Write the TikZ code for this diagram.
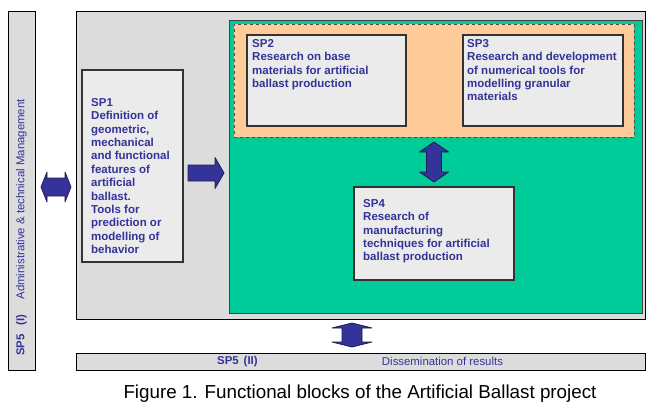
\documentclass[tikz,border=0pt]{standalone}
\usepackage{fontspec}
\setmainfont{Liberation Sans}
\usepackage{xcolor}
\usetikzlibrary{positioning, calc}
\definecolor{cPANEL}{HTML}{DCDCDC}
\definecolor{cBOX}{HTML}{EBEBEB}
\definecolor{cCORE}{HTML}{00CC99}
\definecolor{cBASE}{HTML}{FFCC99}
\definecolor{cINK}{HTML}{333399}
\definecolor{cEDGE}{HTML}{1E1E50}

\begin{document}
\begin{tikzpicture}[x=1pt, y=-1pt,
  blk/.style={draw, inner sep=0pt, outer sep=0pt, anchor=north west},
  spbox/.style={blk, fill=cBOX, draw=black!80, line width=1.2pt},
  sptext/.style={anchor=north west, inner sep=0pt, align=left, text=cINK,
    font=\fontsize{11.5}{13.4}\selectfont\bfseries},
  bartext/.style={inner sep=0pt, text=cINK, font=\fontsize{11.4}{13}\selectfont},
  blockarrow/.style={fill=cINK, draw=cEDGE, line width=0.8pt, line join=round}]
  \useasboundingbox (0,0) rectangle (658,410);

  % SP5 (I): side bar
  \node[blk, fill=cPANEL, minimum width=27pt, minimum height=359pt] (adm) at (8,11) {};
  \node[bartext, rotate=90, anchor=west] (admtxt) at (21.5,356)
    {\textbf{SP5}\hspace{9pt}\textbf{(I)}\hspace{15pt}Administrative \& technical Management};

  % Main panel
  \node[blk, fill=cPANEL, minimum width=569pt, minimum height=308pt] (panel) at (76,11) {};

  % SP1
  \node[spbox, minimum width=101pt, minimum height=192pt] (sp1) at (82,70) {};
  \node[sptext] (sp1txt) at ($(sp1.north west)+(9,28)$)
    {SP1\\Definition of\\geometric,\\mechanical\\and functional\\features of\\artificial\\ballast.\\Tools for\\prediction or\\modelling of\\behavior};

  % Green block with SP2/SP3 group and SP4
  \node[blk, fill=cCORE, draw=black!75, line width=1pt, minimum width=413pt, minimum height=293pt] (core) at (229,20) {};
  \node[blk, fill=cBASE, draw=black!70, dashed, line width=0.7pt, minimum width=400pt, minimum height=113pt] (base) at (234,24) {};

  \node[spbox, minimum width=159pt, minimum height=91pt] (sp2) at (247,35) {};
  \node[sptext] (sp2txt) at ($(sp2.north west)+(5,4)$)
    {SP2\\Research on base\\materials for artificial\\ballast production};

  \node[spbox, minimum width=160pt, minimum height=91pt] (sp3) at (463,35) {};
  \node[sptext] (sp3txt) at ($(sp3.north west)+(4,4)$)
    {SP3\\Research and development\\of numerical tools for\\modelling granular\\materials};

  \node[spbox, minimum width=160pt, minimum height=93pt] (sp4) at (354,187) {};
  \node[sptext] (sp4txt) at ($(sp4.north west)+(9,12)$)
    {SP4\\Research of\\manufacturing\\techniques for artificial\\ballast production};

  % SP5 (II): bottom bar
  \node[blk, fill=cPANEL, line width=1pt, minimum width=569pt, minimum height=17pt] (diss) at (76,353) {};
  \node[bartext, anchor=west] (disslbl) at (217,361.5) {\textbf{SP5}\hspace{5pt}\textbf{(II)}};
  \node[bartext] (disstxt) at (442.5,361.5) {Dissemination of results};

  % Block arrows
  \coordinate (a1) at (41,187);
  \draw[blockarrow] (a1) -- ++(6,-15) -- ++(0,6) -- ++(18,0) -- ++(0,-6) -- ++(6,15)
    -- ++(-6,15) -- ++(0,-6) -- ++(-18,0) -- ++(0,6) -- cycle;

  \coordinate (a2) at (188,173);
  \draw[blockarrow] (a2) -- ++(0,-8) -- ++(27,0) -- ++(0,-7.5) -- ++(9,15.5)
    -- ++(-9,15.5) -- ++(0,-7.5) -- ++(-27,0) -- cycle;

  \coordinate (a3) at (434,142);
  \draw[blockarrow] (a3) -- ++(14.5,10) -- ++(-7,0) -- ++(0,20) -- ++(7,0) -- ++(-14.5,10)
    -- ++(-14.5,-10) -- ++(7,0) -- ++(0,-20) -- ++(-7,0) -- cycle;

  \coordinate (a4) at (352,323);
  \draw[blockarrow] (a4) -- ++(20,5) -- ++(-10,0) -- ++(0,14) -- ++(10,0) -- ++(-20,5)
    -- ++(-20,-5) -- ++(10,0) -- ++(0,-14) -- ++(-10,0) -- cycle;

  % Caption
  \node[font=\fontsize{18.8}{21}\selectfont, inner sep=0pt] (cap) at (360,394)
    {Figure 1. Functional blocks of the Artificial Ballast project};
\end{tikzpicture}
\end{document}
